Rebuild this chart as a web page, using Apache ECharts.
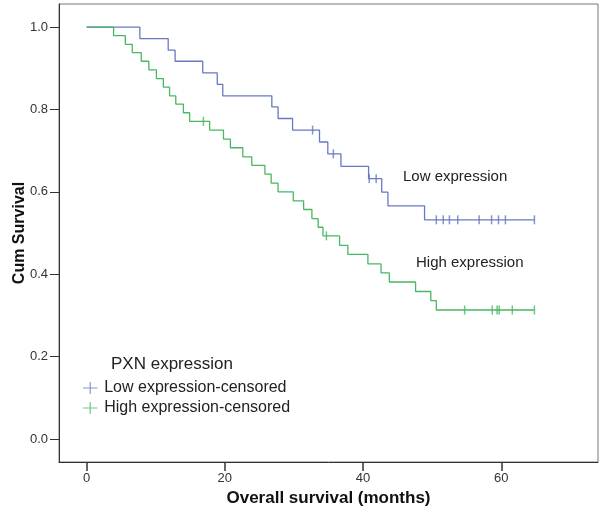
<!DOCTYPE html>
<html>
<head>
<meta charset="utf-8">
<script src="https://cdn.jsdelivr.net/npm/echarts@6/dist/echarts.min.js"></script>
<style>
html,body{margin:0;padding:0;background:#fff;}
#chart{width:600px;height:513px;}
</style>
</head>
<body>
<div id="chart"></div>
<script>
// ---- data ----
var xTicks = [0, 20, 40, 60];
var yTicks = [0, 0.2, 0.4, 0.6, 0.8, 1.0];

// Low expression: step times (months) and survival after each step
var lowTimes = [0, 7.7, 11.8, 12.8, 16.8, 18.9, 19.7, 26.8, 27.7, 29.8, 33.7, 34.9, 36.8, 40.8, 42.7, 43.6, 48.9, 64.8];
var lowSurv  = [1.0, 0.972, 0.944, 0.917, 0.889, 0.861, 0.833, 0.806, 0.778, 0.750, 0.721, 0.692, 0.662, 0.632, 0.599, 0.566, 0.532, 0.532];
var lowCensTimes = [32.7, 35.7, 40.9, 41.9, 50.6, 51.6, 52.5, 53.7, 56.8, 58.6, 59.6, 60.6, 64.8];
var lowCensSurv  = [0.750, 0.692, 0.632, 0.632, 0.532, 0.532, 0.532, 0.532, 0.532, 0.532, 0.532, 0.532, 0.532];

// High expression
var highTimes = [0, 3.9, 5.6, 6.6, 7.9, 9.0, 10.1, 11.1, 12.0, 12.9, 14.0, 14.9,
                 17.8, 19.8, 20.8, 22.6, 23.9, 25.8, 26.7, 27.7, 29.9, 31.4, 32.6, 33.5, 34.2,
                 36.6, 37.8, 40.7, 42.6, 43.8, 47.6, 49.8, 50.6, 64.8];
var highSurv  = [1.0, 0.979, 0.958, 0.938, 0.917, 0.896, 0.875, 0.854, 0.833, 0.813, 0.792, 0.771,
                 0.750, 0.728, 0.707, 0.685, 0.664, 0.643, 0.621, 0.600, 0.578, 0.557, 0.535, 0.514, 0.493,
                 0.470, 0.448, 0.425, 0.403, 0.381, 0.358, 0.336, 0.313, 0.313];
var highCensTimes = [16.9, 34.7, 54.7, 58.7, 59.4, 59.7, 61.6, 64.8];
var highCensSurv  = [0.771, 0.493, 0.313, 0.313, 0.313, 0.313, 0.313, 0.313];

var lowColor = '#6878c4';
var highColor = '#48b862';

function zip(a, b) { return a.map(function (v, i) { return [v, b[i]]; }); }

var plusIcon = 'path://M0,9L24,9L24,11L0,11Z M11,0L13,0L13,20L11,20Z';
var FONT = '"Liberation Sans", Arial, sans-serif';

var chart = echarts.init(document.getElementById('chart'), null, {renderer: 'canvas'});
chart.setOption({
  animation: false,
  backgroundColor: '#ffffff',
  grid: {left: 59, right: 2, top: 4, bottom: 51, containLabel: false, outerBoundsMode: 'none',
         show: true, borderColor: '#777', borderWidth: 1, backgroundColor: '#fff'},
  xAxis: {
    type: 'value', min: -4, max: 74,
    name: 'Overall survival (months)', nameLocation: 'middle', nameGap: 28, nameMoveOverlap: false,
    nameTextStyle: {fontFamily: FONT, fontSize: 17, fontWeight: 'bold', color: '#111'},
    axisLine: {show: true, onZero: false, lineStyle: {color: '#333', width: 1}},
    axisTick: {show: true, length: 9, customValues: xTicks, lineStyle: {color: '#333', width: 1.5}},
    axisLabel: {customValues: xTicks, fontFamily: FONT, fontSize: 13, color: '#333', margin: 10},
    splitLine: {show: false}
  },
  yAxis: {
    type: 'value', min: -0.056, max: 1.056,
    name: 'Cum Survival', nameLocation: 'middle', nameGap: 31, nameRotate: 90, nameMoveOverlap: false,
    nameTextStyle: {fontFamily: FONT, fontSize: 16, fontWeight: 'bold', color: '#111'},
    axisLine: {show: true, onZero: false, lineStyle: {color: '#333', width: 1}},
    axisTick: {show: true, length: 9, customValues: yTicks, lineStyle: {color: '#333', width: 1}},
    axisLabel: {customValues: yTicks, fontFamily: FONT, fontSize: 13, color: '#333', margin: 11,
      formatter: function (v) { return v.toFixed(1); }},
    splitLine: {show: false}
  },
  legend: {
    orient: 'vertical', left: 78, top: 375, itemWidth: 24, itemHeight: 12, itemGap: 4,
    selectedMode: false,
    textStyle: {fontFamily: FONT, fontSize: 16, color: '#222', padding: [0, 0, 0, -3]},
    data: [
      {name: 'Low expression-censored', icon: plusIcon, itemStyle: {color: lowColor}},
      {name: 'High expression-censored', icon: plusIcon, itemStyle: {color: highColor}}
    ]
  },
  graphic: [
    {type: 'text', left: 111, top: 356, style: {text: 'PXN expression', font: '17px ' + FONT, fill: '#222'}},
    {type: 'text', left: 403, top: 169, style: {text: 'Low expression', font: '15px ' + FONT, fill: '#222'}},
    {type: 'text', left: 416, top: 255, style: {text: 'High expression', font: '15px ' + FONT, fill: '#222'}}
  ],
  series: [
    {name: 'Low expression', type: 'line', step: 'end', showSymbol: false, data: zip(lowTimes, lowSurv),
     lineStyle: {color: lowColor, width: 1.3}, itemStyle: {color: lowColor}},
    {name: 'High expression', type: 'line', step: 'end', showSymbol: false, data: zip(highTimes, highSurv),
     lineStyle: {color: highColor, width: 1.3}, itemStyle: {color: highColor}},
    {name: 'Low expression-censored', type: 'scatter', symbol: 'rect', symbolSize: [1.5, 9],
     data: zip(lowCensTimes, lowCensSurv), itemStyle: {color: lowColor}},
    {name: 'High expression-censored', type: 'scatter', symbol: 'rect', symbolSize: [1.5, 9],
     data: zip(highCensTimes, highCensSurv), itemStyle: {color: highColor}}
  ]
});
</script>
</body>
</html>
